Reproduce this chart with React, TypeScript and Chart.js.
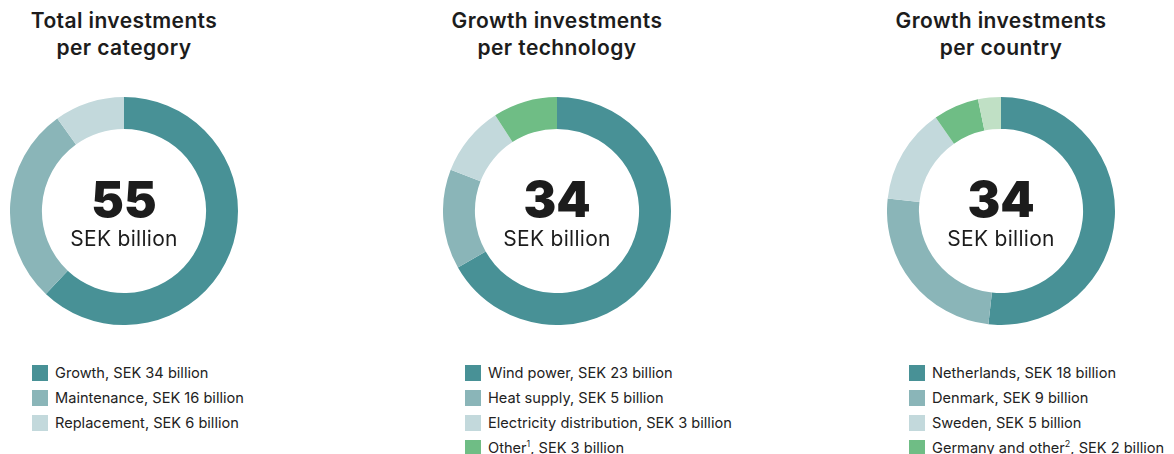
import React, { useEffect, useRef } from "react";
import { Chart, registerables } from "chart.js";

Chart.register(...registerables);

// ---- Data ----
const categoryNames = ["Growth", "Maintenance", "Replacement"];
const categoryNotes = ["", "", ""];
const categoryAmounts = [34, 16, 6];
const categoryValues = [34.3, 15.5, 5.5];
const categoryTotal = "55";
const categoryTitle = ["Total investments", "per category"];

const technologyNames = ["Wind power", "Heat supply", "Electricity distribution", "Other"];
const technologyNotes = ["", "", "", "1"];
const technologyAmounts = [23, 5, 3, 3];
const technologyValues = [22.7, 4.8, 3.4, 3.1];
const technologyTotal = "34";
const technologyTitle = ["Growth investments", "per technology"];

const countryNames = ["Netherlands", "Denmark", "Sweden", "Germany and other", ""];
const countryNotes = ["", "", "", "2", ""];
const countryAmounts = [18, 9, 5, 2];
const countryValues = [17.6, 8.5, 4.6, 2.2, 1.1];
const countryTotal = "34";
const countryTitle = ["Growth investments", "per country"];

const unitLabel = "SEK billion";

const palette = ["#489196", "#8ab5b8", "#c3d9dc", "#6fbd85", "#c0e0c5"];

const FONT = "Inter, 'Noto Sans', sans-serif";

type PanelProps = {
  cx: number;
  title: string[];
  names: string[];
  notes: string[];
  amounts: number[];
  values: number[];
  total: string;
};

function Donut({ values, names }: { values: number[]; names: string[] }) {
  const ref = useRef<HTMLCanvasElement | null>(null);
  useEffect(() => {
    if (!ref.current) return;
    const chart = new Chart(ref.current, {
      type: "doughnut",
      data: {
        labels: names,
        datasets: [
          {
            data: values,
            backgroundColor: palette.slice(0, values.length),
            borderWidth: 0,
            hoverOffset: 0,
          },
        ],
      },
      options: {
        responsive: false,
        animation: false,
        cutout: "72%",
        layout: { padding: 0 },
        plugins: { legend: { display: false }, tooltip: { enabled: false } },
      },
    });
    return () => chart.destroy();
  }, []);
  return <canvas ref={ref} width={228} height={228} style={{ display: "block" }} />;
}

function Panel({ cx, title, names, notes, amounts, values, total }: PanelProps) {
  const cy = 211;
  const R = 114;
  return (
    <>
      <div
        style={{
          position: "absolute",
          left: cx - 150,
          top: 7,
          width: 300,
          textAlign: "center",
          fontFamily: FONT,
          fontWeight: 600,
          fontSize: 21,
          lineHeight: "27px",
          color: "#1c1c1c",
          letterSpacing: "0.4px",
        }}
      >
        {title.map((t, i) => (
          <div key={i}>{t}</div>
        ))}
      </div>
      <div style={{ position: "absolute", left: cx - R, top: cy - R, width: 2 * R, height: 2 * R }}>
        <Donut values={values} names={names} />
      </div>
      <div
        style={{
          position: "absolute",
          left: cx - 80,
          top: 173,
          width: 160,
          textAlign: "center",
          fontFamily: FONT,
          color: "#1c1c1c",
        }}
      >
        <div style={{ fontSize: 49, fontWeight: 900, lineHeight: "54px", letterSpacing: "0px" }}>{total}</div>
        <div style={{ fontSize: 21, fontWeight: 400, lineHeight: "24px", marginTop: 0, letterSpacing: "0.3px" }}>
          {unitLabel}
        </div>
      </div>
      {amounts.map((a, i) => (
        <div
          key={i}
          style={{
            position: "absolute",
            left: cx - 92,
            top: 365 + i * 25,
            height: 16,
            display: "flex",
            alignItems: "center",
            whiteSpace: "nowrap",
            fontFamily: FONT,
            fontSize: 14.6,
            color: "#222",
          }}
        >
          <span style={{ width: 16, height: 16, background: palette[i], display: "inline-block", marginRight: 7 }} />
          <span>
            {names[i]}
            {notes[i] ? <sup style={{ fontSize: 9, lineHeight: 0 }}>{notes[i]}</sup> : null}
            {`, SEK ${a} billion`}
          </span>
        </div>
      ))}
    </>
  );
}

export default function App() {
  useEffect(() => {
    document.body.style.margin = "0";
  }, []);
  return (
    <div style={{ position: "relative", width: 1174, height: 454, overflow: "hidden", background: "#fff" }}>
      <Panel
        cx={124}
        title={categoryTitle}
        names={categoryNames}
        notes={categoryNotes}
        amounts={categoryAmounts}
        values={categoryValues}
        total={categoryTotal}
      />
      <Panel
        cx={557}
        title={technologyTitle}
        names={technologyNames}
        notes={technologyNotes}
        amounts={technologyAmounts}
        values={technologyValues}
        total={technologyTotal}
      />
      <Panel
        cx={1001}
        title={countryTitle}
        names={countryNames}
        notes={countryNotes}
        amounts={countryAmounts}
        values={countryValues}
        total={countryTotal}
      />
    </div>
  );
}
